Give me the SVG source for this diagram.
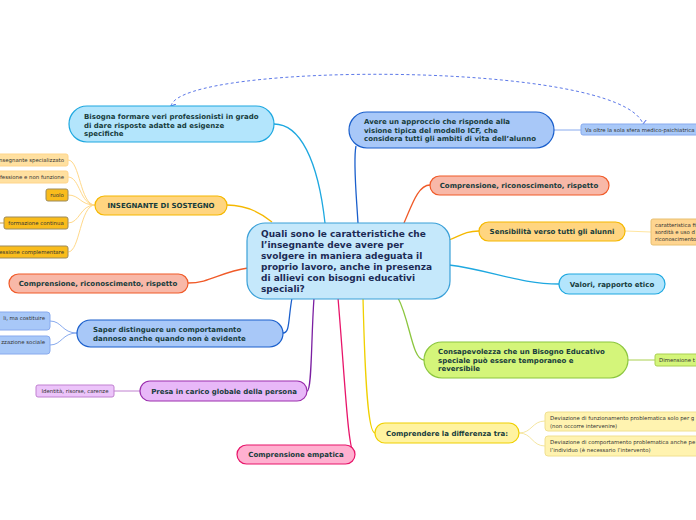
<svg xmlns="http://www.w3.org/2000/svg" width="696" height="520" viewBox="0 0 696 520">
<defs>
<marker id="ah" viewBox="0 0 10 10" refX="5" refY="8" markerWidth="6" markerHeight="6" orient="auto-start-reverse" markerUnits="userSpaceOnUse"><path d="M0,0 L5,8 L10,0" fill="none" stroke="#5c78e8" stroke-width="1.6"/></marker>
<style>
.t{font-family:"DejaVu Sans",Verdana,sans-serif;font-weight:bold;fill:#173c3c}
.m{font-size:7px}
.s{font-family:"DejaVu Sans",Verdana,sans-serif;font-size:5.4px;fill:#333}
.c{font-family:"DejaVu Sans",Verdana,sans-serif;font-weight:bold;font-size:9px;fill:#1c2b55}
.ln{fill:none;stroke-width:1.3}
.sl{fill:none;stroke-width:1}
</style>
</defs>
<g id="connectors">
<path class="ln" stroke="#1ea8e0" d="M325,223 C318,160 300,124 274,124"/>
<path class="ln" stroke="#f5b800" d="M272,222 C255,208 240,205 227,205"/>
<path class="ln" stroke="#f05a28" d="M248,268 C220,272 210,283 188,283"/>
<path class="ln" stroke="#1a5fcc" d="M292,298 C288,320 290,333 283,333"/>
<path class="ln" stroke="#7b1fa2" d="M314,298 C311,340 312,391 307,391"/>
<path class="ln" stroke="#e8156a" d="M338,298 C345,380 348,455 355,455"/>
<path class="ln" stroke="#f0d000" d="M363,298 C365,380 368,433 375,433"/>
<path class="ln" stroke="#8cc63f" d="M398,298 C410,320 412,360 424,360"/>
<path class="ln" stroke="#1ea8e0" d="M449,265 C490,270 520,284 559,284"/>
<path class="ln" stroke="#f5b800" d="M449,240 C460,236 465,231 479,231"/>
<path class="ln" stroke="#f05a28" d="M404,223 C412,205 418,185 430,185"/>
<path class="ln" stroke="#1a5fcc" d="M358,223 C356,190 353,160 356,146"/>
<path fill="none" stroke="#5c78e8" stroke-width="1" stroke-dasharray="3,2.5" marker-start="url(#ah)" marker-end="url(#ah)" d="M171,106 C180,62 620,60 643,124"/>
<g stroke="#ffd98a" class="sl">
<path d="M95,205 C80,205 80,160 68,160"/>
<path d="M95,205 C80,205 80,177 68,177"/>
<path d="M95,205 C80,205 80,195 68,195"/>
<path d="M95,205 C80,205 80,223 68,223"/>
<path d="M95,205 C80,205 80,252 68,252"/>
</g>
<path class="sl" stroke="#c8a050" d="M0,223 L4,223"/>
<g stroke="#88aaee" class="sl">
<path d="M77,333 C62,333 62,321 50,321"/>
<path d="M77,333 C62,333 62,345 50,345"/>
<path d="M554,130 L581,130"/>
</g>
<path class="sl" stroke="#c080d0" d="M140,391 L114,391"/>
<path class="sl" stroke="#ffe6a0" stroke-width="2" d="M625,231 L651,232"/>
<path class="sl" stroke="#aad050" d="M628,360 L655,360"/>
<g stroke="#f5e6a0" class="sl" stroke-width="1.5">
<path d="M519,433 C532,433 532,421 545,421"/>
<path d="M519,433 C532,433 532,446 545,446"/>
</g>
</g>
<g id="central">
<rect x="247" y="223" width="203" height="76" rx="18" fill="#c5e8fb" stroke="#3aa0d8" stroke-width="1.2"/>
<text class="c"><tspan x="261" y="237">Quali sono le caratteristiche che</tspan><tspan x="261" y="248">l’insegnante deve avere per</tspan><tspan x="261" y="259">svolgere in maniera adeguata il</tspan><tspan x="261" y="270">proprio lavoro, anche in presenza</tspan><tspan x="261" y="281">di allievi con bisogni educativi</tspan><tspan x="261" y="292">speciali?</tspan></text>
</g>
<g id="n-bisogna">
<rect x="69" y="106" width="205" height="36" rx="18" fill="#b3e5fc" stroke="#1ea8e0" stroke-width="1.2"/>
<text class="t m"><tspan x="84" y="119">Bisogna formare veri professionisti in grado</tspan><tspan x="84" y="127.5">di dare risposte adatte ad esigenze</tspan><tspan x="84" y="136">specifiche</tspan></text>
</g>
<g id="n-insegnante">
<rect x="95" y="196" width="132" height="19" rx="9.5" fill="#ffd580" stroke="#f5b800" stroke-width="1.2"/>
<text class="t m" x="161" y="208" text-anchor="middle">INSEGNANTE DI SOSTEGNO</text>
</g>
<g id="n-ins1">
<rect x="-10" y="154" width="78" height="12" rx="2" fill="#ffe0a0" stroke="#ffd58a"/>
<text class="s" x="64" y="162" text-anchor="end">nsegnante specializzato</text>
</g>
<g id="n-ins2">
<rect x="-10" y="171" width="78" height="12" rx="2" fill="#ffe0a0" stroke="#ffd58a"/>
<text class="s" x="64" y="179" text-anchor="end">fessione e non funzione</text>
</g>
<g id="n-ins3">
<rect x="46" y="189" width="22" height="12" rx="2" fill="#f9bc1c" stroke="#9c8a5a"/>
<text class="s" x="57" y="197" text-anchor="middle">ruolo</text>
</g>
<g id="n-ins4">
<rect x="4" y="217" width="64" height="12" rx="2" fill="#f9bc1c" stroke="#9c8a5a"/>
<text class="s" x="36" y="225" text-anchor="middle">formazione continua</text>
</g>
<g id="n-ins5">
<rect x="-10" y="246" width="78" height="12" rx="2" fill="#f9bc1c" stroke="#9c8a5a"/>
<text class="s" x="64" y="254" text-anchor="end">essione complementare</text>
</g>
<g id="n-comp-left">
<rect x="9" y="274" width="179" height="19" rx="9.5" fill="#f8b8a8" stroke="#f05a28" stroke-width="1.2"/>
<text class="t m" x="98" y="286" text-anchor="middle">Comprensione, riconoscimento, rispetto</text>
</g>
<g id="n-saper">
<rect x="77" y="320" width="206" height="27" rx="13.5" fill="#a8c8f8" stroke="#1a5fcc" stroke-width="1.2"/>
<text class="t m"><tspan x="93" y="332">Saper distinguere un comportamento</tspan><tspan x="93" y="341">dannoso anche quando non è evidente</tspan></text>
</g>
<g id="n-saper1">
<rect x="-10" y="312" width="60" height="18" rx="3" fill="#a8c8f8" stroke="#88aaee"/>
<text class="s" x="45" y="320" text-anchor="end">li, ma costituire</text>
</g>
<g id="n-saper2">
<rect x="-10" y="336" width="60" height="18" rx="3" fill="#a8c8f8" stroke="#88aaee"/>
<text class="s" x="45" y="344" text-anchor="end">zzazione sociale</text>
</g>
<g id="n-presa">
<rect x="140" y="381" width="167" height="20" rx="10" fill="#e8b8f8" stroke="#9b2fae" stroke-width="1.2"/>
<text class="t m" x="224" y="394" text-anchor="middle">Presa in carico globale della persona</text>
</g>
<g id="n-identita">
<rect x="36" y="385" width="78" height="12" rx="2" fill="#ecc4fa" stroke="#c080d0"/>
<text class="s" x="75" y="393" text-anchor="middle">Identità, risorse, carenze</text>
</g>
<g id="n-empatica">
<rect x="237" y="445" width="118" height="19" rx="9.5" fill="#ffb0d0" stroke="#e8156a" stroke-width="1.2"/>
<text class="t m" x="296" y="457" text-anchor="middle">Comprensione empatica</text>
</g>
<g id="n-avere">
<rect x="349" y="112" width="205" height="36" rx="18" fill="#a8c8f8" stroke="#1a5fcc" stroke-width="1.2"/>
<text class="t m"><tspan x="364" y="124">Avere un approccio che risponde alla</tspan><tspan x="364" y="132.5">visione tipica del modello ICF, che</tspan><tspan x="364" y="141">considera tutti gli ambiti di vita dell’alunno</tspan></text>
</g>
<g id="n-oltre">
<rect x="581" y="124" width="125" height="11" rx="2" fill="#a8c8f8" stroke="#88aaee"/>
<text class="s" x="585" y="131.5">Va oltre la sola sfera medico-psichiatrica</text>
</g>
<g id="n-comp-right">
<rect x="430" y="176" width="179" height="19" rx="9.5" fill="#f8b8a8" stroke="#f05a28" stroke-width="1.2"/>
<text class="t m" x="519" y="188" text-anchor="middle">Comprensione, riconoscimento, rispetto</text>
</g>
<g id="n-sensibilita">
<rect x="479" y="222" width="146" height="19" rx="9.5" fill="#ffd580" stroke="#f5b800" stroke-width="1.2"/>
<text class="t m" x="552" y="234" text-anchor="middle">Sensibilità verso tutti gli alunni</text>
</g>
<g id="n-caratt">
<rect x="651" y="219" width="60" height="26" rx="2" fill="#ffd590" stroke="#e8c070"/>
<text class="s"><tspan x="655" y="227">caratteristica fi</tspan><tspan x="655" y="234">sordità e uso d</tspan><tspan x="655" y="241">riconoscimento</tspan></text>
</g>
<g id="n-valori">
<rect x="559" y="274" width="106" height="20" rx="10" fill="#b3e5fc" stroke="#1ea8e0" stroke-width="1.2"/>
<text class="t m" x="612" y="287" text-anchor="middle">Valori, rapporto etico</text>
</g>
<g id="n-consapevolezza">
<rect x="424" y="342" width="204" height="36" rx="18" fill="#d4f57a" stroke="#8cc63f" stroke-width="1.2"/>
<text class="t m"><tspan x="438" y="354">Consapevolezza che un Bisogno Educativo</tspan><tspan x="438" y="362.5">speciale può essere temporaneo e</tspan><tspan x="438" y="371">reversibile</tspan></text>
</g>
<g id="n-dimensione">
<rect x="655" y="354" width="50" height="12" rx="2" fill="#d4f57a" stroke="#aad050"/>
<text class="s" x="659" y="362">Dimensione t</text>
</g>
<g id="n-comprendere">
<rect x="375" y="423" width="144" height="20" rx="10" fill="#fff3a0" stroke="#f0d000" stroke-width="1.2"/>
<text class="t m" x="447" y="436" text-anchor="middle">Comprendere la differenza tra:</text>
</g>
<g id="n-dev1">
<rect x="545" y="412" width="170" height="19" rx="3" fill="#fff3b0" stroke="#f0e090"/>
<text class="s"><tspan x="550" y="420">Deviazione di funzionamento problematica solo per g</tspan><tspan x="550" y="427.5">(non occorre intervenire)</tspan></text>
</g>
<g id="n-dev2">
<rect x="545" y="436" width="170" height="20" rx="3" fill="#fff3b0" stroke="#f0e090"/>
<text class="s"><tspan x="550" y="444">Deviazione di comportamento problematica anche pe</tspan><tspan x="550" y="452">l’individuo (è necessario l’intervento)</tspan></text>
</g>
</svg>
